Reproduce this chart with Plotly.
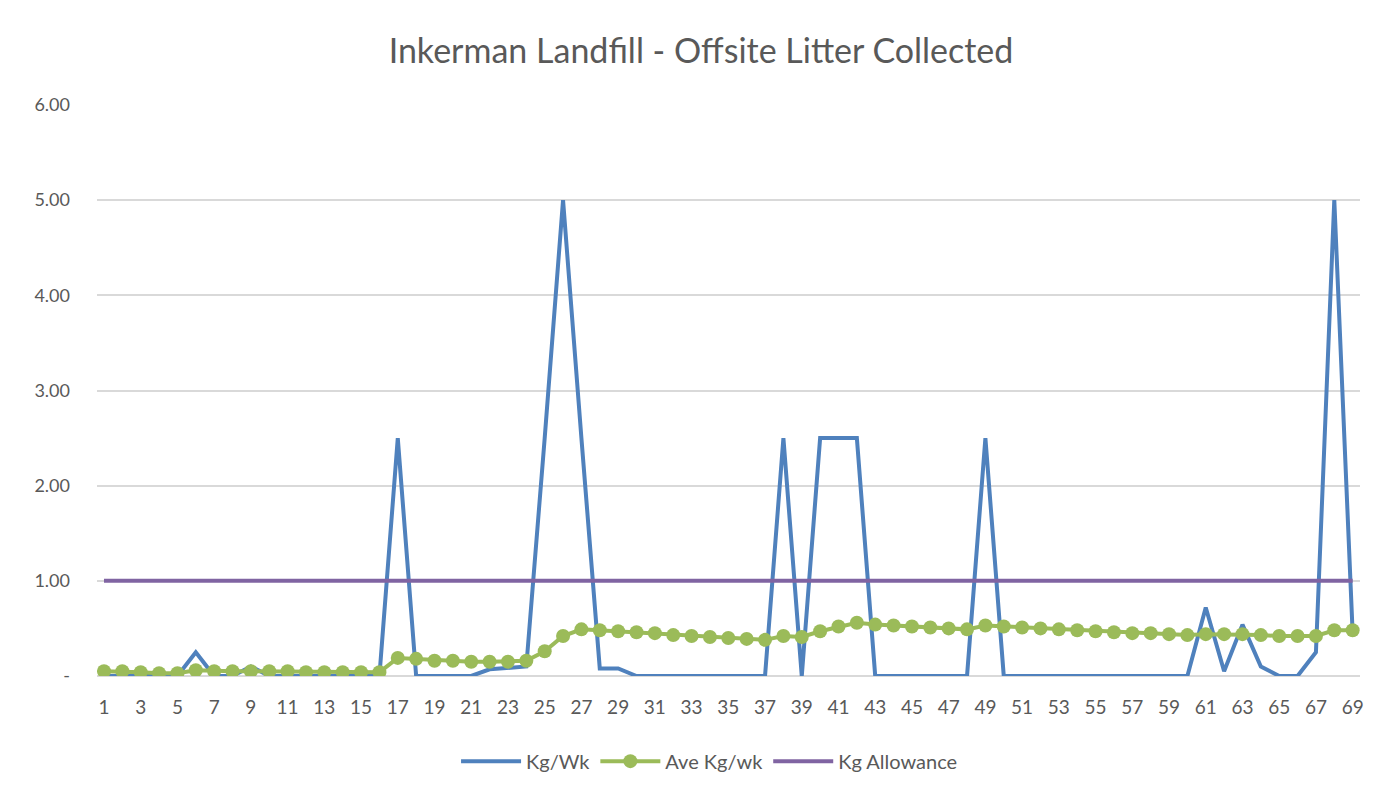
import plotly.graph_objects as go

weeks = list(range(1, 70))
kg_wk = [0, 0, 0, 0, 0, 0.25, 0, 0, 0.1, 0,
         0, 0, 0, 0, 0, 0, 2.5, 0, 0, 0,
         0, 0.07, 0.08, 0.1, 2.5, 5.0, 2.5, 0.08, 0.08, 0,
         0, 0, 0, 0, 0, 0, 0, 2.5, 0, 2.5,
         2.5, 2.5, 0, 0, 0, 0, 0, 0, 2.5, 0,
         0, 0, 0, 0, 0, 0, 0, 0, 0, 0,
         0.72, 0.05, 0.54, 0.1, 0, 0, 0.25, 5.0, 0.45]
ave_kg_wk = [0.05, 0.05, 0.04, 0.03, 0.03, 0.06, 0.05, 0.05, 0.05, 0.05,
             0.05, 0.04, 0.04, 0.04, 0.04, 0.04, 0.19, 0.18, 0.16, 0.16,
             0.15, 0.15, 0.15, 0.16, 0.26, 0.42, 0.49, 0.48, 0.47, 0.46,
             0.45, 0.43, 0.42, 0.41, 0.40, 0.39, 0.38, 0.42, 0.41, 0.47,
             0.52, 0.56, 0.54, 0.53, 0.52, 0.51, 0.50, 0.49, 0.53, 0.52,
             0.51, 0.50, 0.49, 0.48, 0.47, 0.46, 0.45, 0.45, 0.44, 0.43,
             0.44, 0.44, 0.44, 0.43, 0.42, 0.42, 0.42, 0.48, 0.48]
allowance = [1.0] * 69

y_ticks = [0, 1, 2, 3, 4, 5, 6]
y_labels = ["-", "1.00", "2.00", "3.00", "4.00", "5.00", "6.00"]
x_ticks = weeks[::2]

font_family = "Lato, 'Open Sans', sans-serif"
grey = "#595959"

fig = go.Figure()
fig.add_trace(go.Scatter(x=weeks, y=kg_wk, mode="lines", name="Kg/Wk",
                         line=dict(color="#4F81BD", width=4)))
fig.add_trace(go.Scatter(x=weeks, y=ave_kg_wk, mode="lines+markers", name="Ave Kg/wk",
                         line=dict(color="#9BBB59", width=4),
                         marker=dict(color="#9BBB59", size=14)))
fig.add_trace(go.Scatter(x=weeks, y=allowance, mode="lines", name="Kg Allowance",
                         line=dict(color="#8064A2", width=4)))

fig.update_layout(
    width=1386, height=792,
    paper_bgcolor="white", plot_bgcolor="white",
    margin=dict(l=89, r=34, t=97, b=124),
    title=dict(text="Inkerman Landfill - Offsite Litter Collected",
               x=0.5, xanchor="center", y=0.945, yanchor="middle",
               font=dict(family=font_family, size=34, color=grey)),
    font=dict(family=font_family, color=grey, size=18),
    xaxis=dict(range=[0.62, 69.4], tickvals=x_ticks, ticktext=[str(v) for v in x_ticks],
               showgrid=False, zeroline=False, showline=False, ticks="",
               ticklabelstandoff=18,
               tickfont=dict(size=19, color=grey)),
    yaxis=dict(range=[0, 6], tickvals=y_ticks, ticktext=y_labels,
               showgrid=True, gridcolor="#D9D9D9", gridwidth=1.5,
               zeroline=True, zerolinecolor="#D9D9D9", zerolinewidth=1.5,
               ticks="", ticklabelstandoff=26,
               tickfont=dict(size=18, color=grey)),
    legend=dict(orientation="h", x=0.485, xanchor="center", y=-0.115, yanchor="top",
                font=dict(size=20, color=grey), itemwidth=60),
    showlegend=True,
)
fig.update_yaxes(automargin=False)
fig.update_xaxes(automargin=False)

fig.add_shape(type="rect", xref="paper", yref="paper",
              x0=-0.0744, x1=1.019, y0=-0.21, y1=1.173,
              line=dict(color="#D9D9D9", width=1.5), fillcolor="rgba(0,0,0,0)", layer="below")

fig.write_html("out.html")
